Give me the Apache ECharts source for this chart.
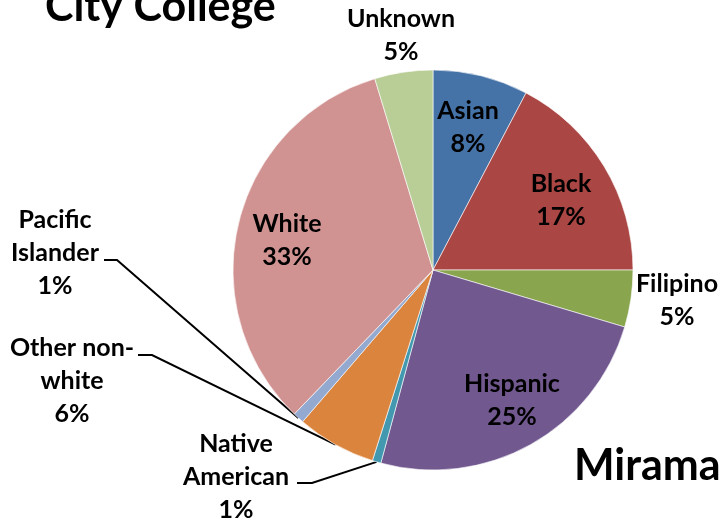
<!DOCTYPE html>
<html>
<head>
<meta charset="utf-8">
<script src="https://cdn.jsdelivr.net/npm/echarts@6/dist/echarts.min.js"></script>
<style>html,body{margin:0;padding:0;background:#fff}#c{width:721px;height:523px}</style>
</head>
<body>
<div id="c"></div>
<script>
// ---- data ----
const categories = ['Asian', 'Black', 'Filipino', 'Hispanic', 'Native American', 'Other non-white', 'Pacific Islander', 'White', 'Unknown'];
const labelTexts = ['Asian', 'Black', 'Filipino', 'Hispanic', 'Native\nAmerican', 'Other non-\nwhite', 'Pacific\nIslander', 'White', 'Unknown'];
const shares = [7.7, 17.3, 4.6, 24.6, 0.7, 6.4, 0.9, 33.1, 4.7];
const colors = ['#4572A7', '#AA4643', '#89A54E', '#71588F', '#4198AF', '#DB843D', '#93A9CF', '#D19392', '#B9CD96'];
const titleLeft = 'City College';
const titleRight = 'Miramar College';

// ---- layout (positions only) ----
const insideSet = { 'Asian': 1, 'Black': 1, 'Hispanic': 1, 'White': 1 };
const labelPos = {
  'Asian': [468, 127],
  'Black': [561, 200],
  'Filipino': [677, 300],
  'Hispanic': [512, 400],
  'Native American': [236, 477],
  'Other non-white': [72, 381],
  'Pacific Islander': [55, 253],
  'White': [287, 240],
  'Unknown': [401, 35]
};
const leader = {
  'Pacific Islander': [[117, 260], [104, 260]],
  'Other non-white': [[152, 355], [138, 355]],
  'Native American': [[312, 483], [297, 483]]
};

const total = shares.reduce((a, b) => a + b, 0);
const FONT = 'Lato';

const data = categories.map((c, i) => {
  const inside = !!insideSet[c];
  return {
    name: c,
    value: shares[i],
    itemStyle: { color: colors[i] },
    label: { position: inside ? 'inside' : 'outside' },
    labelLine: { show: !!leader[c] }
  };
});

const chart = echarts.init(document.getElementById('c'), null, { renderer: 'canvas' });
chart.setOption({
  animation: false,
  backgroundColor: '#ffffff',
  graphic: [
    { type: 'text', left: 45, top: -14, style: { text: titleLeft, font: 'bold 43px ' + FONT, fill: '#000' } },
    { type: 'text', left: 574, top: 445, style: { text: titleRight, font: 'bold 43px ' + FONT, fill: '#000' } }
  ],
  series: [{
    type: 'pie',
    center: [433, 270],
    radius: 200,
    startAngle: 90,
    clockwise: true,
    avoidLabelOverlap: false,
    itemStyle: { borderColor: '#ffffff', borderWidth: 0.6 },
    label: {
      show: true,
      color: '#000',
      fontFamily: FONT,
      fontWeight: 'bold',
      fontSize: 25,
      lineHeight: 33,
      align: 'center',
      formatter: p => labelTexts[p.dataIndex] + '\n' + Math.round(p.value / total * 100) + '%'
    },
    labelLine: { show: true, lineStyle: { color: '#000', width: 2 }, length: 10, length2: 10, smooth: false },
    emphasis: { disabled: true },
    data: data,
    labelLayout: function (p) {
      const name = categories[p.dataIndex];
      const pos = labelPos[name];
      const out = { x: pos[0], y: pos[1], align: 'center', verticalAlign: 'middle' };
      if (leader[name] && p.labelLinePoints) {
        out.labelLinePoints = [p.labelLinePoints[0], leader[name][0], leader[name][1]];
      }
      return out;
    }
  }]
});
</script>
</body>
</html>
